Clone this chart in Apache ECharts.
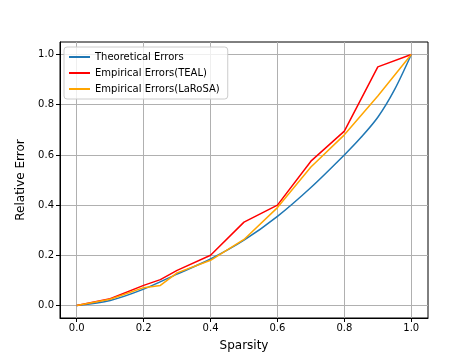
<!DOCTYPE html>
<html>
<head>
<meta charset="utf-8">
<script src="https://cdn.jsdelivr.net/npm/echarts@6/dist/echarts.min.js"></script>
<style>
  html, body { margin: 0; padding: 0; background: #fff; }
  #chart { width: 476px; height: 357px; }
</style>
</head>
<body>
<div id="chart"></div>
<script>
// 数据
var theoX = [0, 0.1, 0.2, 0.3, 0.4, 0.5, 0.6, 0.7, 0.8, 0.85, 0.9, 0.95, 1.0];
var theoY = [0, 0.02, 0.065, 0.125, 0.185, 0.26, 0.355, 0.47, 0.60, 0.67, 0.75, 0.86, 1.0];

var empX = [0, 0.1, 0.2, 0.25, 0.3, 0.4, 0.5, 0.6, 0.7, 0.8, 0.9, 1.0];
var tealY = [0, 0.027, 0.08, 0.103, 0.14, 0.2, 0.332, 0.4, 0.575, 0.695, 0.951, 1.0];
var larosaY = [0, 0.025, 0.071, 0.08, 0.13, 0.18, 0.263, 0.39, 0.552, 0.68, 0.835, 1.0];

var tickValues = [0, 0.2, 0.4, 0.6, 0.8, 1.0];
var names = ['Theoretical Errors', 'Empirical Errors(TEAL)', 'Empirical Errors(LaRoSA)'];

function pairs(xs, ys) {
    var out = [];
    for (var i = 0; i < xs.length; i++) out.push([xs[i], ys[i]]);
    return out;
}

var font = 'DejaVu Sans';
var myChart = echarts.init(document.getElementById('chart'));
var option = {
    animation: false,
    backgroundColor: '#fff',
    grid: {
        left: 60, right: 48, top: 42, bottom: 39,
        show: true, borderColor: '#000', borderWidth: 1
    },
    legend: {
        orient: 'vertical',
        left: 64, top: 47,
        padding: [4, 8, 4, 5],
        itemGap: 4,
        itemWidth: 21,
        itemHeight: 2,
        icon: 'rect',
        borderColor: '#cccccc',
        borderWidth: 1,
        borderRadius: 3,
        backgroundColor: 'rgba(255,255,255,0.8)',
        selectedMode: false,
        textStyle: { fontFamily: font, fontSize: 10, color: '#000', lineHeight: 12 },
        data: names
    },
    xAxis: {
        type: 'value',
        min: -0.05, max: 1.05,
        name: 'Sparsity',
        nameLocation: 'middle',
        nameGap: 22,
        nameTextStyle: { fontFamily: font, fontSize: 12, color: '#000' },
        axisLine: { show: true, onZero: false, lineStyle: { color: '#000' } },
        axisTick: { show: true, length: 4, lineStyle: { color: '#000' }, customValues: tickValues },
        axisLabel: {
            fontFamily: font, fontSize: 10, color: '#000', margin: 5,
            customValues: tickValues,
            formatter: function (v) { return v.toFixed(1); }
        },
        splitLine: { show: true, lineStyle: { color: '#b0b0b0', width: 1 } }
    },
    yAxis: {
        type: 'value',
        min: -0.05, max: 1.05,
        name: 'Relative Error',
        nameLocation: 'middle',
        nameGap: 29,
        nameTextStyle: { fontFamily: font, fontSize: 12, color: '#000' },
        axisLine: { show: true, onZero: false, lineStyle: { color: '#000' } },
        axisTick: { show: true, length: 4, lineStyle: { color: '#000' }, customValues: tickValues },
        axisLabel: {
            fontFamily: font, fontSize: 10, color: '#000', margin: 6,
            customValues: tickValues,
            formatter: function (v) { return v.toFixed(1); }
        },
        splitLine: { show: true, lineStyle: { color: '#b0b0b0', width: 1 } }
    },
    series: [
        {
            name: names[0], type: 'line', symbol: 'none', smooth: 0.3,
            lineStyle: { color: '#1f77b4', width: 1.5 }, itemStyle: { color: '#1f77b4' },
            data: pairs(theoX, theoY)
        },
        {
            name: names[1], type: 'line', symbol: 'none',
            lineStyle: { color: '#ff0000', width: 1.5 }, itemStyle: { color: '#ff0000' },
            data: pairs(empX, tealY)
        },
        {
            name: names[2], type: 'line', symbol: 'none',
            lineStyle: { color: '#ffa500', width: 1.5 }, itemStyle: { color: '#ffa500' },
            data: pairs(empX, larosaY)
        }
    ]
};
myChart.setOption(option);
</script>
</body>
</html>
